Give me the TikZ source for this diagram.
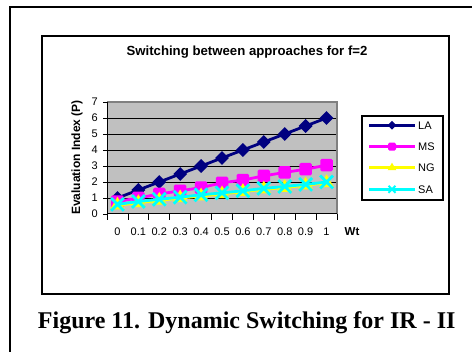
\documentclass[tikz,border=0pt]{standalone}
\usepackage{fontspec}
\setmainfont{Liberation Serif}
\setsansfont{Liberation Sans}
\usetikzlibrary{shapes.geometric,shapes.misc}
\definecolor{lacol}{RGB}{0,0,128}
\definecolor{mscol}{RGB}{255,0,255}
\definecolor{ngcol}{RGB}{255,255,0}
\definecolor{sacol}{RGB}{0,255,255}
\definecolor{plotbg}{RGB}{192,192,192}
\definecolor{plotedge}{RGB}{128,128,128}
\tikzset{
  frameline/.style={line width=2.2pt,black},
  chartbox/.style={line width=1.8pt,black},
  ticklbl/.style={font=\sffamily\fontsize{11}{13}\selectfont,inner sep=0pt},
  legtxt/.style={font=\sffamily\fontsize{11}{13}\selectfont,inner sep=0pt,anchor=west},
  serline/.style={line width=2.8pt,line join=round},
  lamark/.style={diamond,fill=lacol,inner sep=0pt,minimum width=14pt,minimum height=14pt},
  msmark/.style={rectangle,fill=mscol,inner sep=0pt,minimum size=12.5pt,rounded corners=1.5pt},
  ngmark/.style={regular polygon,regular polygon sides=3,fill=ngcol,inner sep=0pt,minimum size=17pt},
  samark/.style={cross out,draw=sacol,line width=2.8pt,inner sep=0pt,minimum size=10pt},
}
\begin{document}
\begin{tikzpicture}[x=1pt,y=-1pt]
\useasboundingbox (0,0) rectangle (472,352);
\fill[white] (0,0) rectangle (472,352);
% outer frame (left and top edges only are in view)
\draw[frameline] (10,352) -- (10,7) -- (472,7);
% chart area
\draw[chartbox] (42,36) rectangle (449,294);
\node[font=\sffamily\bfseries\fontsize{13.2}{15}\selectfont] (title) at (247,52) {Switching between approaches for f=2};
% plot area
\fill[plotbg] (107,102) rectangle (337,214);
\foreach \g in {1,...,6} \draw[line width=0.7pt] (107,{214-16*\g}) -- (337,{214-16*\g});
\draw[plotedge,line width=1.6pt] (107,102) -- (337,102) -- (337,214);
\draw[line width=1pt] (107,102) -- (107,214) -- (337,214);
% y axis ticks and labels
\foreach \g in {0,...,7} {
  \draw[line width=0.8pt] (103,{214-16*\g}) -- (107,{214-16*\g});
  \node[ticklbl,anchor=east] (yl\g) at (98,{214-16*\g}) {\g};
}
% x axis ticks and labels
\foreach \k in {0,...,11} \draw[line width=0.8pt] ({107+20.909*\k},214) -- ({107+20.909*\k},220);
\foreach \t [count=\i from 0] in {0,0.1,0.2,0.3,0.4,0.5,0.6,0.7,0.8,0.9,1}
  \node[ticklbl] (xl\i) at ({107+20.909*(\i+0.5)},232) {\t};
\node[ticklbl,font=\sffamily\bfseries\fontsize{11.5}{13}\selectfont] (wt) at (352,232) {Wt};
\node[rotate=90,font=\sffamily\bfseries\fontsize{12}{14}\selectfont,inner sep=0pt] (ylab) at (77,157.5) {Evaluation Index (P)};
% data points
\foreach \v [count=\i from 0] in {1,1.5,2,2.5,3,3.5,4,4.5,5,5.5,6}
  \coordinate (la\i) at ({107+20.909*(\i+0.5)},{214-16*\v});
\foreach \v [count=\i from 0] in {0.78,1.0,1.25,1.45,1.65,1.95,2.12,2.38,2.6,2.8,3.05}
  \coordinate (ms\i) at ({107+20.909*(\i+0.5)},{214-16*\v});
\foreach \v [count=\i from 0] in {0.55,0.7,0.85,1.0,1.12,1.25,1.4,1.55,1.65,1.8,1.95}
  \coordinate (ng\i) at ({107+20.909*(\i+0.5)},{214-16*\v});
\foreach \v [count=\i from 0] in {0.6,0.78,0.92,1.05,1.2,1.32,1.45,1.6,1.72,1.85,2.0}
  \coordinate (sa\i) at ({107+20.909*(\i+0.5)},{214-16*\v});
% series LA
\draw[serline,lacol] (la0) \foreach \i in {1,...,10} { -- (la\i) };
\foreach \i in {0,...,10} \node[lamark] (mla\i) at (la\i) {};
% series MS
\draw[serline,mscol] (ms0) \foreach \i in {1,...,10} { -- (ms\i) };
\foreach \i in {0,...,10} \node[msmark] (mms\i) at (ms\i) {};
% series NG
\draw[serline,ngcol] (ng0) \foreach \i in {1,...,10} { -- (ng\i) };
\foreach \i in {0,...,10} \node[ngmark] (mng\i) at (ng\i) {};
% series SA
\draw[serline,sacol] (sa0) \foreach \i in {1,...,10} { -- (sa\i) };
\foreach \i in {0,...,10} \node[samark] (msa\i) at (sa\i) {};
% legend
\draw[line width=1.2pt] (362,116) rectangle (443,200);
\coordinate (lga) at (369,125.3); \coordinate (lgb) at (415,125.3);
\draw[serline,lacol] (lga) -- (lgb);
\node[lamark,minimum width=9pt,minimum height=9pt] (lgla) at (392,125.3) {};
\node[legtxt] (tla) at (418,125.3) {LA};
\coordinate (lgc) at (369,146.7); \coordinate (lgd) at (415,146.7);
\draw[serline,mscol] (lgc) -- (lgd);
\node[msmark,minimum size=8pt] (lgms) at (392,146.7) {};
\node[legtxt] (tms) at (418,146.7) {MS};
\coordinate (lge) at (369,167.7); \coordinate (lgf) at (415,167.7);
\draw[serline,ngcol] (lge) -- (lgf);
\node[ngmark,minimum size=10pt] (lgng) at (392,167.7) {};
\node[legtxt] (tng) at (418,167.7) {NG};
\coordinate (lgg) at (369,189.3); \coordinate (lgh) at (415,189.3);
\draw[serline,sacol] (lgg) -- (lgh);
\node[samark,minimum size=5pt,line width=2pt] (lgsa) at (392,189.3) {};
\node[legtxt] (tsa) at (418,189.3) {SA};
% caption
\node[font=\rmfamily\bfseries\fontsize{24}{28}\selectfont,inner sep=0pt] (cap) at (246.7,323) {Figure 11. Dynamic Switching for IR - II};
\end{tikzpicture}
\end{document}
